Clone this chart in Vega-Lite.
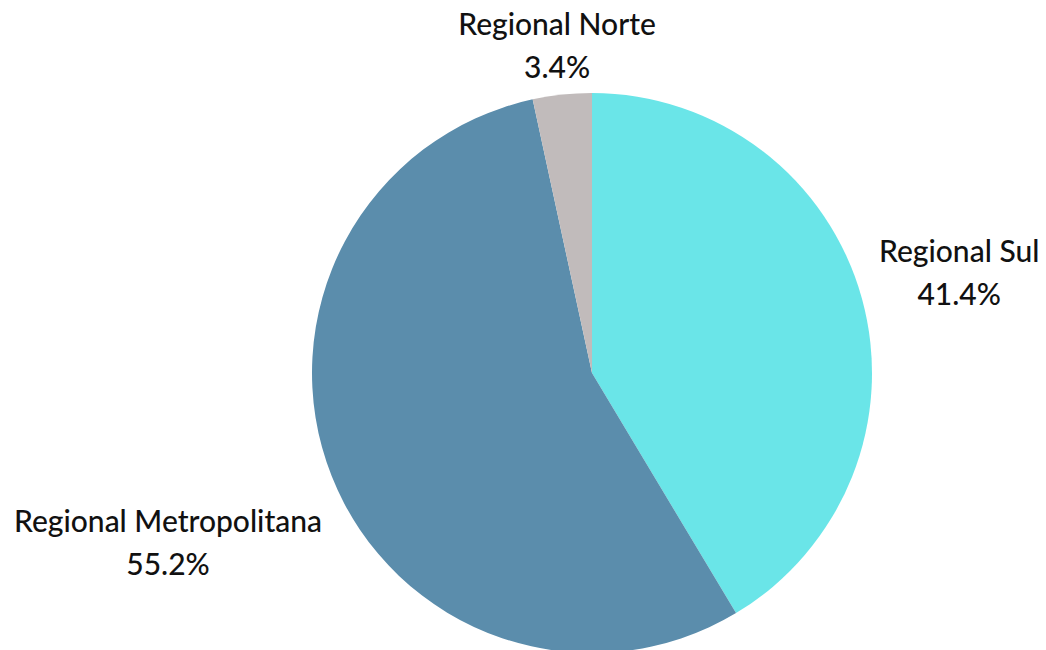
{
  "$schema": "https://vega.github.io/schema/vega-lite/v6.json",
  "width": 1046,
  "height": 650,
  "autosize": {"type": "none"},
  "padding": 0,
  "background": "white",
  "view": {"stroke": null},
  "data": {
    "values": [
      {"regional": "Regional Sul", "pct": 41.4, "order": 1},
      {"regional": "Regional Metropolitana", "pct": 55.2, "order": 2},
      {"regional": "Regional Norte", "pct": 3.4, "order": 3}
    ]
  },
  "transform": [
    {"stack": "pct", "groupby": [], "sort": [{"field": "order", "order": "ascending"}], "as": ["s0", "s1"]},
    {"calculate": "(datum.s0 + datum.s1) / 2", "as": "mid"},
    {"calculate": "datum.regional + '\\n' + format(datum.pct, '.1f') + '%'", "as": "label"}
  ],
  "layer": [
    {
      "mark": {"type": "arc", "outerRadius": 280, "xOffset": 69, "yOffset": 48, "stroke": null},
      "encoding": {
        "theta": {"field": "s0", "type": "quantitative", "scale": {"domain": [0, 100]}},
        "theta2": {"field": "s1"},
        "color": {
          "field": "regional",
          "type": "nominal",
          "scale": {
            "domain": ["Regional Sul", "Regional Metropolitana", "Regional Norte"],
            "range": ["#6ae5e8", "#5b8dac", "#c1bbbb"]
          },
          "legend": null
        }
      }
    },
    {
      "transform": [{"filter": "datum.regional == 'Regional Sul'"}],
      "mark": {"type": "text", "radius": 381, "xOffset": 69, "yOffset": 48, "dy": -18, "font": "Lato", "fontSize": 30, "fontWeight": 500, "lineBreak": "\n", "lineHeight": 43, "color": "#111111"},
      "encoding": {"theta": {"field": "mid", "type": "quantitative", "scale": {"domain": [0, 100]}}, "text": {"field": "label"}}
    },
    {
      "transform": [{"filter": "datum.regional == 'Regional Metropolitana'"}],
      "mark": {"type": "text", "radius": 456, "xOffset": 69, "yOffset": 48, "dy": -18, "font": "Lato", "fontSize": 30, "fontWeight": 500, "lineBreak": "\n", "lineHeight": 43, "color": "#111111"},
      "encoding": {"theta": {"field": "mid", "type": "quantitative", "scale": {"domain": [0, 100]}}, "text": {"field": "label"}}
    },
    {
      "transform": [{"filter": "datum.regional == 'Regional Norte'"}],
      "mark": {"type": "text", "radius": 328, "xOffset": 69, "yOffset": 48, "dy": -21, "font": "Lato", "fontSize": 30, "fontWeight": 500, "lineBreak": "\n", "lineHeight": 43, "color": "#111111"},
      "encoding": {"theta": {"field": "mid", "type": "quantitative", "scale": {"domain": [0, 100]}}, "text": {"field": "label"}}
    }
  ]
}
